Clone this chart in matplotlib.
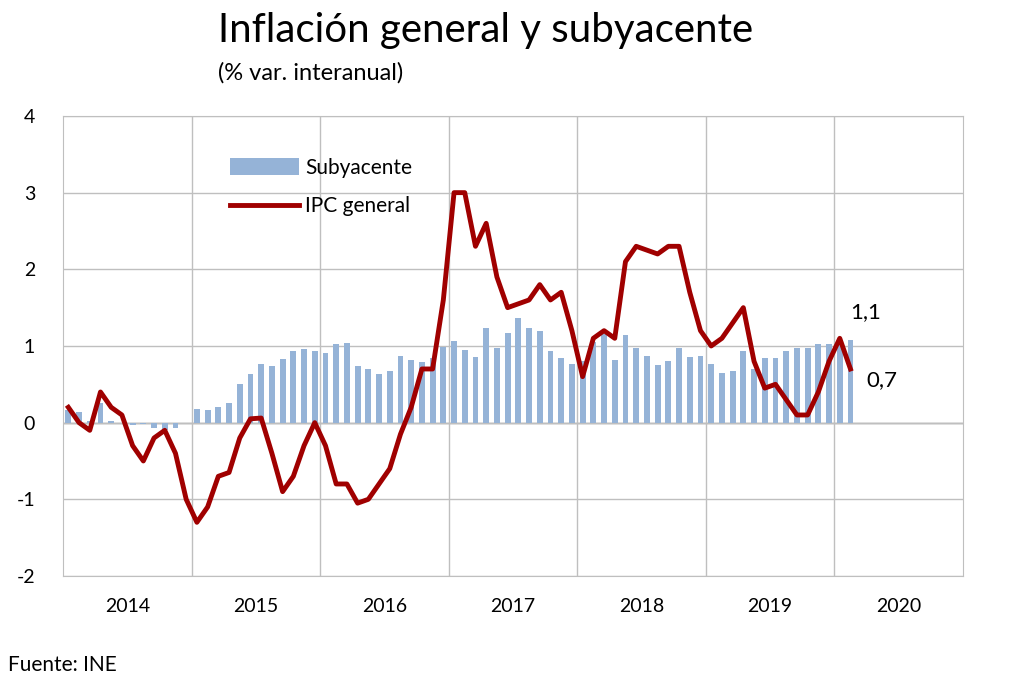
import matplotlib
matplotlib.use("Agg")
import matplotlib.pyplot as plt
import numpy as np

plt.rcParams['font.family'] = ['Lato', 'DejaVu Sans']
plt.rcParams['axes.unicode_minus'] = False

# datos mensuales ene-2014 .. feb-2020
anios = ['2014', '2015', '2016', '2017', '2018', '2019', '2020']

ipc_general = [
    0.2, 0.0, -0.1, 0.4, 0.2, 0.1, -0.3, -0.5, -0.2, -0.1, -0.4, -1.0,
    -1.3, -1.1, -0.7, -0.65, -0.2, 0.05, 0.06, -0.4, -0.9, -0.7, -0.3, 0.0,
    -0.3, -0.8, -0.8, -1.05, -1.0, -0.8, -0.6, -0.15, 0.2, 0.7, 0.7, 1.6,
    3.0, 3.0, 2.3, 2.6, 1.9, 1.5, 1.55, 1.6, 1.8, 1.6, 1.7, 1.2,
    0.6, 1.1, 1.2, 1.1, 2.1, 2.3, 2.25, 2.2, 2.3, 2.3, 1.7, 1.2,
    1.0, 1.1, 1.3, 1.5, 0.8, 0.45, 0.5, 0.3, 0.1, 0.1, 0.4, 0.8,
    1.1, 0.7,
]

subyacente = [
    0.16, 0.14, 0.02, 0.25, 0.02, 0.0, -0.03, -0.02, -0.07, -0.09, -0.07, 0.0,
    0.18, 0.16, 0.2, 0.25, 0.51, 0.64, 0.77, 0.74, 0.83, 0.93, 0.96, 0.94,
    0.91, 1.02, 1.04, 0.74, 0.70, 0.63, 0.67, 0.87, 0.82, 0.79, 0.84, 0.99,
    1.07, 0.95, 0.86, 1.23, 0.98, 1.17, 1.36, 1.24, 1.19, 0.93, 0.84, 0.76,
    0.81, 1.05, 1.15, 0.82, 1.14, 0.98, 0.87, 0.75, 0.8, 0.98, 0.86, 0.87,
    0.77, 0.65, 0.68, 0.94, 0.70, 0.84, 0.84, 0.94, 0.98, 0.98, 1.03, 1.03,
    1.04, 1.08,
]

fig = plt.figure(figsize=(10.24, 6.83), dpi=100)
ax = fig.add_axes([0.0615, 0.1567, 0.8789, 0.6735])

x = np.arange(len(ipc_general)) + 0.5
barras = ax.bar(x, subyacente, width=0.55, color='#95B3D7', label='Subyacente', zorder=2)
linea, = ax.plot(x, ipc_general, color='#A00000', lw=3.5, label='IPC general', zorder=3)

ax.set_xlim(0, 84)
ax.set_ylim(-2, 4)
ax.set_yticks([-2, -1, 0, 1, 2, 3, 4])
ax.set_xticks(np.arange(12, 84, 12))
ax.set_xticks(np.arange(6, 84, 12), minor=True)
ax.set_xticklabels([])
ax.set_xticklabels(anios, minor=True)
ax.tick_params(axis='x', which='both', length=0, pad=16, labelsize=14)
ax.tick_params(axis='y', length=0, pad=20, labelsize=14)
ax.grid(True, which='major', color='#BFBFBF', lw=1, zorder=0)
ax.axhline(0, color='#808080', lw=1, zorder=1)
for s in ax.spines.values():
    s.set_color('#BFBFBF')

ax.legend([barras, linea], ['Subyacente', 'IPC general'],
          loc='upper left', bbox_to_anchor=(0.165, 0.95), frameon=False,
          fontsize=15, handlelength=3.3, handleheight=0.9, labelspacing=0.9,
          handletextpad=0.3)

ax.annotate('1,1', xy=(x[-2], ipc_general[-2]), xytext=(850, 371),
            textcoords='figure pixels', fontsize=16, va='center', ha='left')
ax.annotate('0,7', xy=(x[-1], ipc_general[-1]), xytext=(866, 303),
            textcoords='figure pixels', fontsize=16, va='center', ha='left')

fig.text(0.213, 0.955, 'Inflación general y subyacente', fontsize=29, va='center')
fig.text(0.213, 0.893, '(% var. interanual)', fontsize=17, va='center')
fig.text(0.008, 0.026, 'Fuente: INE', fontsize=15, va='center')

fig.savefig('out.png', dpi=100)
